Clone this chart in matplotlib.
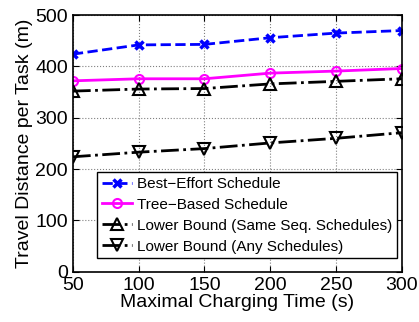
import matplotlib
matplotlib.use('Agg')
import matplotlib.pyplot as plt

plt.rcParams['font.family'] = ['Liberation Sans', 'DejaVu Sans']

charging_time = [50, 100, 150, 200, 250, 300]
best_effort = [424, 442, 443, 456, 465, 470]
tree_based = [372, 376, 376, 387, 391, 396]
lower_same_seq = [352, 356, 357, 366, 371, 376]
lower_any = [224, 233, 240, 251, 260, 271]

fig = plt.figure(figsize=(4.19, 3.22), dpi=100)
ax = fig.add_axes([0.174, 0.156, 0.785, 0.797])

ax.plot(charging_time, best_effort, '--x', color='blue', lw=2, ms=6, mew=2.5,
        label='Best\u2212Effort Schedule')
ax.plot(charging_time, tree_based, '-o', color='magenta', lw=2, ms=6.5, mew=1.5,
        mfc='none', label='Tree\u2212Based Schedule')
ax.plot(charging_time, lower_same_seq, '-.^', color='black', lw=2, ms=8, mew=1.5,
        mfc='none', label='Lower Bound (Same Seq. Schedules)')
ax.plot(charging_time, lower_any, '-.v', color='black', lw=2, ms=8, mew=1.5,
        mfc='none', label='Lower Bound (Any Schedules)')

ax.set_xlim(50, 300)
ax.set_ylim(0, 500)
ax.set_xticks(charging_time)
ax.set_yticks([0, 100, 200, 300, 400, 500])
ax.grid(True, linestyle=':', color='gray', lw=0.8)
ax.tick_params(direction='in', top=True, right=True, labelsize=14, length=4)
for s in ax.spines.values():
    s.set_linewidth(1.2)

ax.set_xlabel('Maximal Charging Time (s)', fontsize=14, labelpad=0)
ax.set_ylabel('Travel Distance per Task (m)', fontsize=14, labelpad=2)

leg = ax.legend(loc='lower right', bbox_to_anchor=(0.985, 0.053), fontsize=11,
                fancybox=False, edgecolor='black', framealpha=1,
                handlelength=2.0, handletextpad=0.3, labelspacing=0.45,
                borderpad=0.3, borderaxespad=0)
leg.get_frame().set_linewidth(1)

fig.savefig('out.png', dpi=100)
